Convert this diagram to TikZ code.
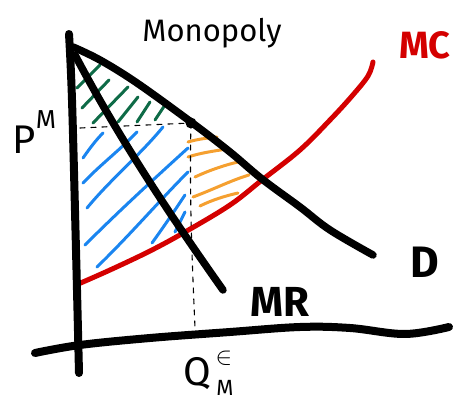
\documentclass[tikz,border=0pt]{standalone}
\usepackage{fontspec}
\setmainfont{Fira Sans}
\definecolor{mcred}{HTML}{D40000}
\definecolor{hgreen}{HTML}{0E6B47}
\definecolor{hblue}{HTML}{1A85F0}
\definecolor{horange}{HTML}{F5A030}
\begin{document}
\begin{tikzpicture}[x=1pt,y=-1pt,line cap=round,line join=round,
  axisline/.style={line width=8pt,black},
  curveline/.style={line width=7.5pt,black},
  mcline/.style={line width=5pt,mcred},
  hatchg/.style={line width=3pt,hgreen},
  hatchb/.style={line width=3pt,hblue},
  hatcho/.style={line width=3pt,horange},
  guide/.style={line width=1.1pt,black,dash pattern=on 5pt off 6pt},
  lbl/.style={inner sep=0pt}]
\useasboundingbox (0,0) rectangle (459,401);
% key points
\coordinate (top) at (75,50);
\coordinate (pmaxis) at (80,128);
\coordinate (mpt) at (191,123);
\coordinate (qfoot) at (195,328);
% green hatching
\foreach \a/\b in {{(77,88)}/{(100,65)},{(82,108)}/{(109,80)},{(93,123)}/{(128,87)},{(118,122)}/{(138,97)},{(137,122)}/{(150,102)},{(155,120)}/{(165,105)}}
  \draw[hatchg] \a -- \b;
% blue hatching
\draw[hatchb] (83,158) .. controls (90,148) and (96,140) .. (103,133);
\draw[hatchb] (83,183) .. controls (100,165) and (120,150) .. (137,132);
\draw[hatchb] (87,208) .. controls (110,180) and (140,155) .. (163,127);
\draw[hatchb] (85,245) .. controls (120,210) and (155,178) .. (188,148);
\draw[hatchb] (97,267) .. controls (130,235) and (160,200) .. (188,172);
\draw[hatchb] (152,243) .. controls (165,225) and (175,210) .. (185,195);
\draw[hatchb] (175,232) -- (185,212);
% orange hatching
\draw[hatcho] (188,142) .. controls (198,139) and (208,138) .. (217,137);
\draw[hatcho] (188,157) .. controls (200,153) and (214,151) .. (227,149);
\draw[hatcho] (195,177) .. controls (210,170) and (225,165) .. (238,162);
\draw[hatcho] (193,197) .. controls (212,190) and (232,180) .. (249,175);
\draw[hatcho] (200,206) .. controls (212,200) and (225,196) .. (238,193);
% dashed guides
\draw[guide] (pmaxis) -- (mpt);
\draw[guide] (mpt) .. controls (189,200) and (193,280) .. (qfoot);
% MC
\draw[mcline] plot[smooth,tension=0.6] coordinates {(76,285) (110,270) (150,251) (185,232) (230,205) (262,180) (300,150) (330,120) (352,96) (368,76) (373,62)};
% D
\draw[curveline] plot[smooth,tension=0.6] coordinates {(73,47) (100,60) (137,83) (191,122) (230,152) (262,179) (300,207) (330,230) (373,255)};
\fill (mpt) circle (5.5);
% MR
\draw[curveline] (75,55) .. controls (120,140) and (170,215) .. (223,290);
% axes
\draw[axisline] plot[smooth,tension=0.6] coordinates {(69,34) (72,100) (76,250) (79,373)};
\draw[axisline] plot[smooth,tension=0.6] coordinates {(35,353) (80,345) (150,338) (230,332) (300,327) (350,328) (405,334) (449,327)};
% labels
\node[lbl,font=\fontsize{31}{31}\selectfont] (title) at (212,33) {Monopoly};
\node[lbl,font=\fontsize{38}{38}\selectfont\bfseries,text=mcred] (mclab) at (425,45) {MC};
\node[lbl,font=\fontsize{44}{44}\selectfont\bfseries] (dlab) at (425,262) {D};
\node[lbl,font=\fontsize{42}{42}\selectfont\bfseries] (mrlab) at (280,302) {MR};
\node[lbl,font=\fontsize{40}{40}\selectfont] (plab) at (24,140) {P};
\node[lbl,font=\fontsize{26}{26}\selectfont] (pmlab) at (46,120) {M};
\node[lbl,font=\fontsize{40}{40}\selectfont] (qlab) at (197,374) {Q};
\node[lbl,font=\fontsize{28}{28}\selectfont] (qsup) at (224,358) {$\in$};
\node[lbl,font=\fontsize{22}{22}\selectfont] (qsub) at (225,388) {M};
\end{tikzpicture}
\end{document}
